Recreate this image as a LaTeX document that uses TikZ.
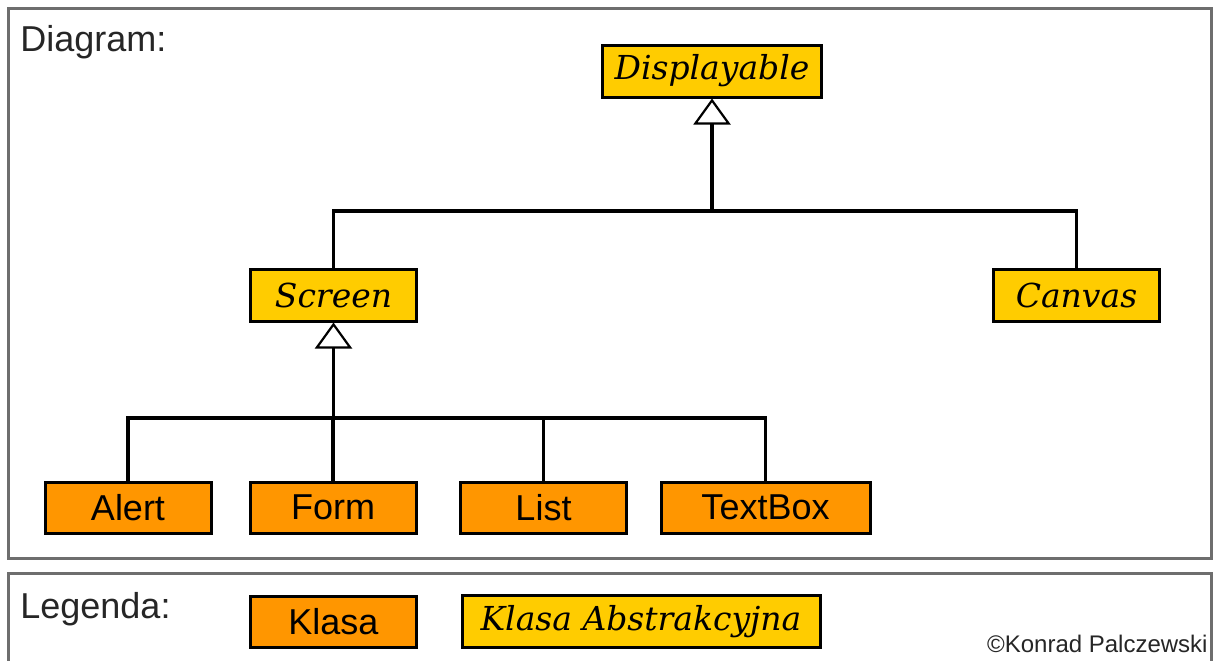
\documentclass[tikz,border=0pt]{standalone}
\usepackage{fontspec}
\setmainfont{Liberation Sans}
\newfontfamily\abstractfont{DejaVu Serif}
\usetikzlibrary{arrows.meta}

\definecolor{klasa}{RGB}{255,150,0}
\definecolor{abstrakt}{RGB}{255,204,0}
\definecolor{frame}{RGB}{110,110,110}

\tikzset{
  klasabox/.style={draw=black, fill=klasa, line width=1.5pt, minimum width=83pt,
    minimum height=25.5pt, inner sep=0pt, font=\fontsize{18}{20}\selectfont},
  abstrbox/.style={draw=black, fill=abstrakt, line width=1.5pt, minimum width=83pt,
    minimum height=26pt, inner sep=0pt, font=\abstractfont\itshape\fontsize{16.5}{19}\selectfont},
  link/.style={line width=1.7pt},
  inherit/.style={line width=1.7pt, -{Triangle[open, width=18.5pt, length=13pt, line width=1.1pt]}},
  panel/.style={draw=frame, line width=1.5pt},
  caption/.style={anchor=base west, inner sep=0pt, text=black!85, font=\fontsize{18}{20}\selectfont}
}

\begin{document}
\begin{tikzpicture}[x=0.5pt, y=-0.5pt]
  \useasboundingbox (0,0) rectangle (1216,660);
  \fill[white] (0,0) rectangle (1216,660);

  % frames
  \draw[panel] (8,8) rectangle (1211,558);
  \draw[panel] (8,573) rectangle (1211,672);
  \node[caption] (diag) at (20,51)  {Diagram:};
  \node[caption] (leg)  at (20,618) {Legenda:};
  \node[anchor=base east, inner sep=0pt, text=black!85, font=\fontsize{12}{14}\selectfont]
    (author) at (1208,652) {©Konrad Palczewski};

  % classes
  \node[abstrbox, minimum width=109.5pt] (disp)   at (712,71)  {Displayable};
  \node[abstrbox] (screen) at (333.5,295) {Screen};
  \node[abstrbox] (canvas) at (1076.5,295) {Canvas};
  \node[klasabox] (alert)   at (128,507.5) {Alert};
  \node[klasabox] (form)    at (333,507.5) {Form};
  \node[klasabox] (list)    at (543.5,507.5) {List};
  \node[klasabox, minimum width=104.5pt] (textbox) at (765.5,507.5) {TextBox};

  % legend
  \node[klasabox] (klasa) at (333.5,621.5) {Klasa};
  \node[abstrbox, minimum width=179pt] (abstr) at (641,621.5) {Klasa Abstrakcyjna};

  % inheritance
  \coordinate (bus1) at (712,211);
  \coordinate (bus2) at (333.5,418);
  \draw[inherit] (bus1) -- (disp);
  \draw[link] (screen.north) |- (bus1) -| (canvas.north);
  \draw[inherit] (bus2) -- (screen);
  \draw[link] (alert.north) |- (bus2) -| (textbox.north);
  \draw[link] (form.north) -- (form.north |- bus2);
  \draw[link] (list.north) -- (list.north |- bus2);
\end{tikzpicture}
\end{document}
